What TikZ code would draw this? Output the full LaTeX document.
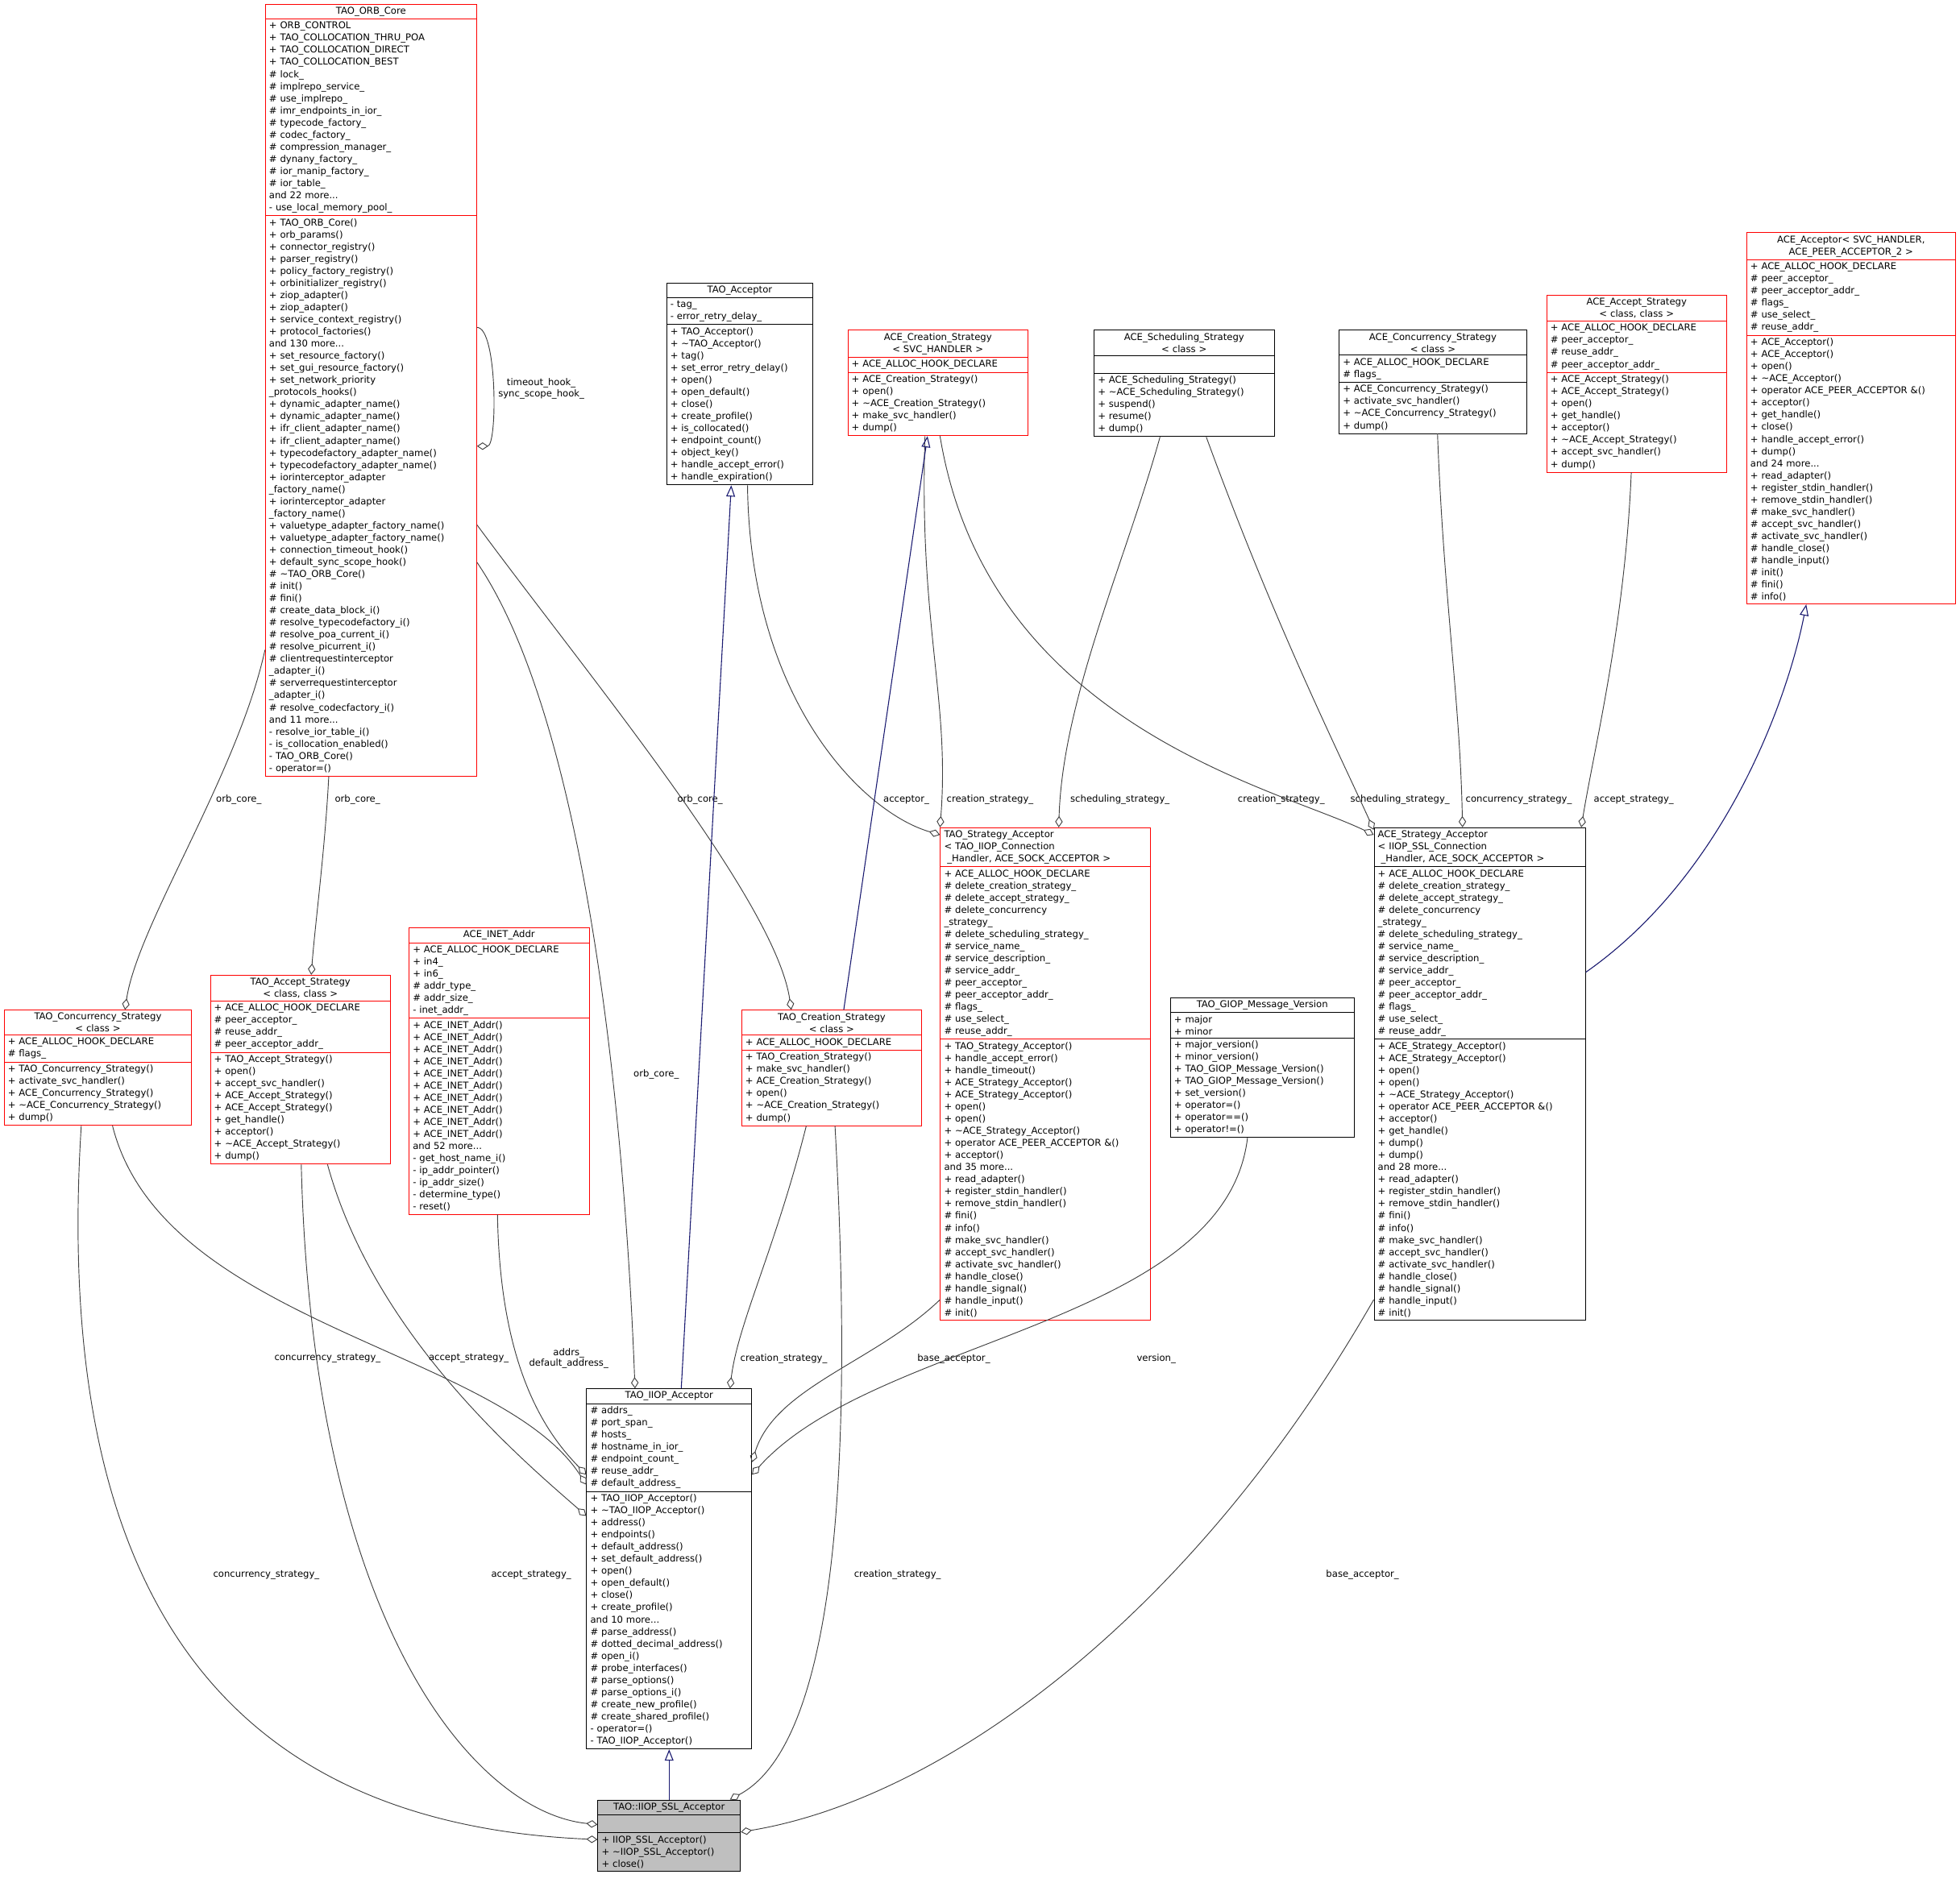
\documentclass[tikz,border=0pt]{standalone}
\usepackage{fontspec}
\setmainfont{DejaVu Sans}
\usetikzlibrary{shapes.multipart,arrows.meta}
\newcommand\T{\textasciitilde}
\newcommand\ttl[1]{\makebox[\linewidth][c]{#1}}
\definecolor{edg}{HTML}{404040}
\definecolor{inh}{HTML}{191970}
\tikzset{
 cls/.style={draw=red, rectangle split, rectangle split parts=3, anchor=north west,
   inner xsep=3pt, inner ysep=2pt, align=left, line width=0.6pt,
   font=\fontsize{7.5}{9.7}\selectfont},
 blk/.style={draw=black},
 use/.style={draw=edg, line width=0.6pt, -{Diamond[open,length=9pt,width=6pt]}},
 isa/.style={draw=inh, line width=0.7pt, -{Triangle[open,length=9pt,width=7pt]}},
 lbl/.style={font=\fontsize{7.5}{8.8}\selectfont, align=center, inner sep=1pt}
}
\begin{document}
\begin{tikzpicture}[x=1pt,y=-1pt]
\useasboundingbox (0,0) rectangle (1568,1513);
\fill[white] (0,0) rectangle (1568,1513);

\node[cls,text width=163pt] (orb) at (212,3) {\ttl{TAO\_ORB\_Core}
\nodepart{two}+ ORB\_CONTROL\\+ TAO\_COLLOCATION\_THRU\_POA\\+ TAO\_COLLOCATION\_DIRECT\\+ TAO\_COLLOCATION\_BEST\\\# lock\_\\\# implrepo\_service\_\\\# use\_implrepo\_\\\# imr\_endpoints\_in\_ior\_\\\# typecode\_factory\_\\\# codec\_factory\_\\\# compression\_manager\_\\\# dynany\_factory\_\\\# ior\_manip\_factory\_\\\# ior\_table\_\\and 22 more...\\- use\_local\_memory\_pool\_
\nodepart{three}+ TAO\_ORB\_Core()\\+ orb\_params()\\+ connector\_registry()\\+ parser\_registry()\\+ policy\_factory\_registry()\\+ orbinitializer\_registry()\\+ ziop\_adapter()\\+ ziop\_adapter()\\+ service\_context\_registry()\\+ protocol\_factories()\\and 130 more...\\+ set\_resource\_factory()\\+ set\_gui\_resource\_factory()\\+ set\_network\_priority\\\_protocols\_hooks()\\+ dynamic\_adapter\_name()\\+ dynamic\_adapter\_name()\\+ ifr\_client\_adapter\_name()\\+ ifr\_client\_adapter\_name()\\+ typecodefactory\_adapter\_name()\\+ typecodefactory\_adapter\_name()\\+ iorinterceptor\_adapter\\\_factory\_name()\\+ iorinterceptor\_adapter\\\_factory\_name()\\+ valuetype\_adapter\_factory\_name()\\+ valuetype\_adapter\_factory\_name()\\+ connection\_timeout\_hook()\\+ default\_sync\_scope\_hook()\\\# \T TAO\_ORB\_Core()\\\# init()\\\# fini()\\\# create\_data\_block\_i()\\\# resolve\_typecodefactory\_i()\\\# resolve\_poa\_current\_i()\\\# resolve\_picurrent\_i()\\\# clientrequestinterceptor\\\_adapter\_i()\\\# serverrequestinterceptor\\\_adapter\_i()\\\# resolve\_codecfactory\_i()\\and 11 more...\\- resolve\_ior\_table\_i()\\- is\_collocation\_enabled()\\- TAO\_ORB\_Core()\\- operator=()};

\node[cls,blk,text width=111pt] (tacc) at (533,226) {\ttl{TAO\_Acceptor}
\nodepart{two}- tag\_\\- error\_retry\_delay\_
\nodepart{three}+ TAO\_Acceptor()\\+ \T TAO\_Acceptor()\\+ tag()\\+ set\_error\_retry\_delay()\\+ open()\\+ open\_default()\\+ close()\\+ create\_profile()\\+ is\_collocated()\\+ endpoint\_count()\\+ object\_key()\\+ handle\_accept\_error()\\+ handle\_expiration()};

\node[cls,text width=138pt] (acs) at (678,264) {\ttl{ACE\_Creation\_Strategy}\\\ttl{< SVC\_HANDLER >}
\nodepart{two}+ ACE\_ALLOC\_HOOK\_DECLARE
\nodepart{three}+ ACE\_Creation\_Strategy()\\+ open()\\+ \T ACE\_Creation\_Strategy()\\+ make\_svc\_handler()\\+ dump()};

\node[cls,blk,text width=138pt] (ass) at (875,264) {\ttl{ACE\_Scheduling\_Strategy}\\\ttl{< class >}
\nodepart{two}\strut
\nodepart{three}+ ACE\_Scheduling\_Strategy()\\+ \T ACE\_Scheduling\_Strategy()\\+ suspend()\\+ resume()\\+ dump()};

\node[cls,blk,text width=144pt] (acos) at (1071,264) {\ttl{ACE\_Concurrency\_Strategy}\\\ttl{< class >}
\nodepart{two}+ ACE\_ALLOC\_HOOK\_DECLARE\\\# flags\_
\nodepart{three}+ ACE\_Concurrency\_Strategy()\\+ activate\_svc\_handler()\\+ \T ACE\_Concurrency\_Strategy()\\+ dump()};

\node[cls,text width=138pt] (aas) at (1237,236) {\ttl{ACE\_Accept\_Strategy}\\\ttl{< class, class >}
\nodepart{two}+ ACE\_ALLOC\_HOOK\_DECLARE\\\# peer\_acceptor\_\\\# reuse\_addr\_\\\# peer\_acceptor\_addr\_
\nodepart{three}+ ACE\_Accept\_Strategy()\\+ ACE\_Accept\_Strategy()\\+ open()\\+ get\_handle()\\+ acceptor()\\+ \T ACE\_Accept\_Strategy()\\+ accept\_svc\_handler()\\+ dump()};

\node[cls,text width=161pt] (aacc) at (1397,186) {\ttl{ACE\_Acceptor< SVC\_HANDLER,}\\\ttl{ACE\_PEER\_ACCEPTOR\_2 >}
\nodepart{two}+ ACE\_ALLOC\_HOOK\_DECLARE\\\# peer\_acceptor\_\\\# peer\_acceptor\_addr\_\\\# flags\_\\\# use\_select\_\\\# reuse\_addr\_
\nodepart{three}+ ACE\_Acceptor()\\+ ACE\_Acceptor()\\+ open()\\+ \T ACE\_Acceptor()\\+ operator ACE\_PEER\_ACCEPTOR \&()\\+ acceptor()\\+ get\_handle()\\+ close()\\+ handle\_accept\_error()\\+ dump()\\and 24 more...\\+ read\_adapter()\\+ register\_stdin\_handler()\\+ remove\_stdin\_handler()\\\# make\_svc\_handler()\\\# accept\_svc\_handler()\\\# activate\_svc\_handler()\\\# handle\_close()\\\# handle\_input()\\\# init()\\\# fini()\\\# info()};

\node[cls,text width=162pt] (tsa) at (752,662) {TAO\_Strategy\_Acceptor\\< TAO\_IIOP\_Connection\\ \ \_Handler, ACE\_SOCK\_ACCEPTOR >
\nodepart{two}+ ACE\_ALLOC\_HOOK\_DECLARE\\\# delete\_creation\_strategy\_\\\# delete\_accept\_strategy\_\\\# delete\_concurrency\\\_strategy\_\\\# delete\_scheduling\_strategy\_\\\# service\_name\_\\\# service\_description\_\\\# service\_addr\_\\\# peer\_acceptor\_\\\# peer\_acceptor\_addr\_\\\# flags\_\\\# use\_select\_\\\# reuse\_addr\_
\nodepart{three}+ TAO\_Strategy\_Acceptor()\\+ handle\_accept\_error()\\+ handle\_timeout()\\+ ACE\_Strategy\_Acceptor()\\+ ACE\_Strategy\_Acceptor()\\+ open()\\+ open()\\+ \T ACE\_Strategy\_Acceptor()\\+ operator ACE\_PEER\_ACCEPTOR \&()\\+ acceptor()\\and 35 more...\\+ read\_adapter()\\+ register\_stdin\_handler()\\+ remove\_stdin\_handler()\\\# fini()\\\# info()\\\# make\_svc\_handler()\\\# accept\_svc\_handler()\\\# activate\_svc\_handler()\\\# handle\_close()\\\# handle\_signal()\\\# handle\_input()\\\# init()};

\node[cls,blk,text width=163pt] (asa) at (1099,662) {ACE\_Strategy\_Acceptor\\< IIOP\_SSL\_Connection\\ \ \_Handler, ACE\_SOCK\_ACCEPTOR >
\nodepart{two}+ ACE\_ALLOC\_HOOK\_DECLARE\\\# delete\_creation\_strategy\_\\\# delete\_accept\_strategy\_\\\# delete\_concurrency\\\_strategy\_\\\# delete\_scheduling\_strategy\_\\\# service\_name\_\\\# service\_description\_\\\# service\_addr\_\\\# peer\_acceptor\_\\\# peer\_acceptor\_addr\_\\\# flags\_\\\# use\_select\_\\\# reuse\_addr\_
\nodepart{three}+ ACE\_Strategy\_Acceptor()\\+ ACE\_Strategy\_Acceptor()\\+ open()\\+ open()\\+ \T ACE\_Strategy\_Acceptor()\\+ operator ACE\_PEER\_ACCEPTOR \&()\\+ acceptor()\\+ get\_handle()\\+ dump()\\+ dump()\\and 28 more...\\+ read\_adapter()\\+ register\_stdin\_handler()\\+ remove\_stdin\_handler()\\\# fini()\\\# info()\\\# make\_svc\_handler()\\\# accept\_svc\_handler()\\\# activate\_svc\_handler()\\\# handle\_close()\\\# handle\_signal()\\\# handle\_input()\\\# init()};

\node[cls,text width=138pt] (inet) at (327,742) {\ttl{ACE\_INET\_Addr}
\nodepart{two}+ ACE\_ALLOC\_HOOK\_DECLARE\\+ in4\_\\+ in6\_\\\# addr\_type\_\\\# addr\_size\_\\- inet\_addr\_
\nodepart{three}+ ACE\_INET\_Addr()\\+ ACE\_INET\_Addr()\\+ ACE\_INET\_Addr()\\+ ACE\_INET\_Addr()\\+ ACE\_INET\_Addr()\\+ ACE\_INET\_Addr()\\+ ACE\_INET\_Addr()\\+ ACE\_INET\_Addr()\\+ ACE\_INET\_Addr()\\+ ACE\_INET\_Addr()\\and 52 more...\\- get\_host\_name\_i()\\- ip\_addr\_pointer()\\- ip\_addr\_size()\\- determine\_type()\\- reset()};

\node[cls,text width=138pt] (tas) at (168,780) {\ttl{TAO\_Accept\_Strategy}\\\ttl{< class, class >}
\nodepart{two}+ ACE\_ALLOC\_HOOK\_DECLARE\\\# peer\_acceptor\_\\\# reuse\_addr\_\\\# peer\_acceptor\_addr\_
\nodepart{three}+ TAO\_Accept\_Strategy()\\+ open()\\+ accept\_svc\_handler()\\+ ACE\_Accept\_Strategy()\\+ ACE\_Accept\_Strategy()\\+ get\_handle()\\+ acceptor()\\+ \T ACE\_Accept\_Strategy()\\+ dump()};

\node[cls,text width=144pt] (tcos) at (3,808) {\ttl{TAO\_Concurrency\_Strategy}\\\ttl{< class >}
\nodepart{two}+ ACE\_ALLOC\_HOOK\_DECLARE\\\# flags\_
\nodepart{three}+ TAO\_Concurrency\_Strategy()\\+ activate\_svc\_handler()\\+ ACE\_Concurrency\_Strategy()\\+ \T ACE\_Concurrency\_Strategy()\\+ dump()};

\node[cls,text width=138pt] (tcs) at (593,808) {\ttl{TAO\_Creation\_Strategy}\\\ttl{< class >}
\nodepart{two}+ ACE\_ALLOC\_HOOK\_DECLARE
\nodepart{three}+ TAO\_Creation\_Strategy()\\+ make\_svc\_handler()\\+ ACE\_Creation\_Strategy()\\+ open()\\+ \T ACE\_Creation\_Strategy()\\+ dump()};

\node[cls,blk,text width=141pt] (giop) at (936,798) {\ttl{TAO\_GIOP\_Message\_Version}
\nodepart{two}+ major\\+ minor
\nodepart{three}+ major\_version()\\+ minor\_version()\\+ TAO\_GIOP\_Message\_Version()\\+ TAO\_GIOP\_Message\_Version()\\+ set\_version()\\+ operator=()\\+ operator==()\\+ operator!=()};

\node[cls,blk,text width=126pt] (iiop) at (469,1111) {\ttl{TAO\_IIOP\_Acceptor}
\nodepart{two}\# addrs\_\\\# port\_span\_\\\# hosts\_\\\# hostname\_in\_ior\_\\\# endpoint\_count\_\\\# reuse\_addr\_\\\# default\_address\_
\nodepart{three}+ TAO\_IIOP\_Acceptor()\\+ \T TAO\_IIOP\_Acceptor()\\+ address()\\+ endpoints()\\+ default\_address()\\+ set\_default\_address()\\+ open()\\+ open\_default()\\+ close()\\+ create\_profile()\\and 10 more...\\\# parse\_address()\\\# dotted\_decimal\_address()\\\# open\_i()\\\# probe\_interfaces()\\\# parse\_options()\\\# parse\_options\_i()\\\# create\_new\_profile()\\\# create\_shared\_profile()\\- operator=()\\- TAO\_IIOP\_Acceptor()};

\node[cls,blk,fill={rgb,255:red,191;green,191;blue,191},text width=108pt] (ssl) at (478,1440) {\ttl{TAO::IIOP\_SSL\_Acceptor}
\nodepart{two}\strut
\nodepart{three}+ IIOP\_SSL\_Acceptor()\\+ \T IIOP\_SSL\_Acceptor()\\+ close()};

% connectors
\draw[use] (orb.east |- 0,262) .. controls (398,262) and (398,357) .. (orb.east |- 0,357);
\node[lbl] (l1) at (433,311) {timeout\_hook\_\\sync\_scope\_hook\_};
\draw[use] (orb.west |- 0,520) .. controls (190,620) and (110,740) .. ([xshift=97pt]tcos.north west);
\node[lbl] (l2) at (191,640) {orb\_core\_};
\draw[use] ([xshift=51pt]orb.south west) .. controls (260,680) and (252,740) .. ([xshift=81pt]tas.north west);
\node[lbl] (l3) at (286,640) {orb\_core\_};
\draw[use] (orb.east |- 0,450) .. controls (470,580) and (500,900) .. ([xshift=39pt]iiop.north west);
\node[lbl] (l4) at (525,860) {orb\_core\_};
\draw[use] (orb.east |- 0,420) .. controls (470,540) and (620,720) .. ([xshift=40pt]tcs.north west);
\node[lbl] (l5) at (560,640) {orb\_core\_};
\draw[isa] ([xshift=76pt]iiop.north west) -- ([xshift=52pt]tacc.south west);
\draw[use] ([xshift=65pt]tacc.south west) .. controls (600,560) and (690,650) .. (tsa.west |- 0,668);
\node[lbl] (l7) at (725,640) {acceptor\_};
\draw[use] ([xshift=62pt]acs.south west) .. controls (735,500) and (760,560) .. (tsa.north west);
\node[lbl] (l8) at (792,640) {creation\_strategy\_};
\draw[isa] ([xshift=82pt]tcs.north west) -- ([xshift=64pt]acs.south west);
\draw[use] ([xshift=74pt]acs.south west) .. controls (790,580) and (1020,630) .. (asa.west |- 0,668);
\node[lbl] (l10) at (1025,640) {creation\_strategy\_};
\draw[use] ([xshift=53pt]ass.south west) .. controls (900,450) and (850,560) .. ([xshift=95pt]tsa.north west);
\node[lbl] (l11) at (896,640) {scheduling\_strategy\_};
\draw[use] ([xshift=90pt]ass.south west) .. controls (1020,500) and (1070,600) .. (asa.west |- 0,664);
\node[lbl] (l12) at (1120,640) {scheduling\_strategy\_};
\draw[use] ([xshift=79pt]acos.south west) .. controls (1155,480) and (1168,560) .. ([xshift=71pt]asa.north west);
\node[lbl] (l13) at (1215,640) {concurrency\_strategy\_};
\draw[use] ([xshift=68pt]aas.south west) .. controls (1300,500) and (1275,600) .. ([xshift=166pt]asa.north west);
\node[lbl] (l14) at (1307,640) {accept\_strategy\_};
\draw[isa] (asa.east |- 0,778) .. controls (1380,700) and (1430,560) .. ([xshift=48pt]aacc.south west);
\draw[use] ([xshift=87pt]tcos.south west) .. controls (130,1060) and (400,1080) .. (iiop.west |- 0,1188);
\node[lbl] (l16) at (262,1087) {concurrency\_strategy\_};
\draw[use] ([xshift=94pt]tas.south west) .. controls (300,1070) and (420,1170) .. (iiop.west |- 0,1213);
\node[lbl] (l17) at (375,1087) {accept\_strategy\_};
\draw[use] ([xshift=71pt]inet.south west) .. controls (400,1100) and (440,1150) .. (iiop.west |- 0,1180);
\node[lbl] (l18) at (455,1087) {addrs\_\\default\_address\_};
\draw[use] ([xshift=52pt]tcs.south west) .. controls (620,1000) and (590,1060) .. ([xshift=115pt]iiop.north west);
\node[lbl] (l19) at (627,1087) {creation\_strategy\_};
\draw[use] (tsa.west |- 0,1040) .. controls (700,1090) and (620,1110) .. (iiop.east |- 0,1170);
\node[lbl] (l20) at (763,1087) {base\_acceptor\_};
\draw[use] ([xshift=62pt]giop.south west) .. controls (980,1060) and (700,1070) .. (iiop.east |- 0,1180);
\node[lbl] (l21) at (925,1087) {version\_};
\draw[isa] (ssl.north) -- (iiop.south);
\draw[use] ([xshift=62pt]tcos.south west) .. controls (40,1300) and (200,1460) .. (ssl.west |- 0,1472);
\node[lbl] (l23) at (213,1260) {concurrency\_strategy\_};
\draw[use] ([xshift=73pt]tas.south west) .. controls (250,1300) and (380,1450) .. (ssl.west |- 0,1460);
\node[lbl] (l24) at (425,1260) {accept\_strategy\_};
\draw[use] ([xshift=75pt]tcs.south west) .. controls (690,1300) and (640,1410) .. ([xshift=106pt]ssl.north west);
\node[lbl] (l25) at (718,1260) {creation\_strategy\_};
\draw[use] (asa.west |- 0,1040) .. controls (950,1300) and (750,1440) .. (ssl.east |- 0,1466);
\node[lbl] (l26) at (1090,1260) {base\_acceptor\_};
\end{tikzpicture}
\end{document}
